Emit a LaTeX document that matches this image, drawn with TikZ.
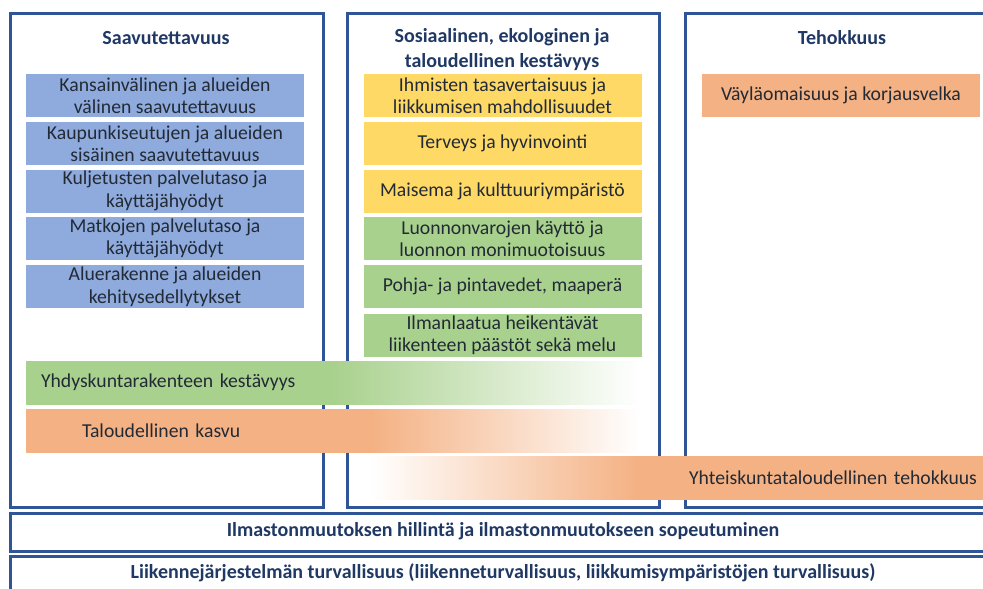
\documentclass[tikz,border=0pt]{standalone}
\usepackage{fontspec}
\setmainfont{Carlito}
\usetikzlibrary{positioning}
\definecolor{frameblue}{HTML}{2F5597}
\definecolor{titleblue}{HTML}{1F3864}
\definecolor{itemtext}{HTML}{222A35}
\definecolor{itemblue}{HTML}{8FAADC}
\definecolor{itemyellow}{HTML}{FFD966}
\definecolor{itemgreen}{HTML}{A9D18E}
\definecolor{itemorange}{HTML}{F4B183}
\pgfdeclarehorizontalshading{greenfade}{100bp}{color(0bp)=(itemgreen); color(50bp)=(itemgreen); color(75bp)=(white); color(100bp)=(white)}
\pgfdeclarehorizontalshading{orangefade}{100bp}{color(0bp)=(itemorange); color(53bp)=(itemorange); color(75bp)=(white); color(100bp)=(white)}
\pgfdeclarehorizontalshading{orangerise}{100bp}{color(0bp)=(white); color(25bp)=(white); color(47bp)=(itemorange); color(100bp)=(itemorange)}

\begin{document}
\begin{tikzpicture}[x=1pt, y=-1pt,
    colframe/.style={draw=frameblue, line width=3pt, inner sep=0pt, anchor=north west},
    head/.style={font=\bfseries\fontsize{20}{25}\selectfont, text=titleblue, align=center},
    item/.style={minimum width=278pt, minimum height=43pt, align=center,
      inner sep=0pt, font=\fontsize{19.7}{22.5}\selectfont, text=itemtext},
    bar/.style={minimum height=43pt, inner ysep=0pt, shade, font=\fontsize{19.7}{22.5}\selectfont, text=itemtext}]
  \useasboundingbox (0,0) rectangle (983,589);
  \clip (0,0) rectangle (983,589);
  \node[colframe, minimum width=313pt, minimum height=494pt] (saav) at (9,12) {};
  \node[colframe, minimum width=312pt, minimum height=494pt] (kest) at (346,12) {};
  \node[colframe, minimum width=330pt, minimum height=494pt] (teho) at (684,12) {};
  \node[colframe, minimum width=1000pt, minimum height=38pt] (ilmasto) at (9,512) {};
  \node[colframe, minimum width=1000pt, minimum height=50pt] (turva) at (9,555) {};

  \node[head] (saavT) at (166,38) {Saavutettavuus};
  \node[head] (kestT) at (502,50) {Sosiaalinen, ekologinen ja\\taloudellinen kestävyys};
  \node[head] (tehoT) at (842,38) {Tehokkuus};

  \node[item, fill=itemblue] (kv) at (165,95.5) {Kansainvälinen ja alueiden\\välinen saavutettavuus};
  \node[item, fill=itemblue] (ks) at (165,143.5) {Kaupunkiseutujen ja alueiden\\sisäinen saavutettavuus};
  \node[item, fill=itemblue] (kul) at (165,191) {Kuljetusten palvelutaso ja\\käyttäjähyödyt};
  \node[item, fill=itemblue] (mat) at (165,238.5) {Matkojen palvelutaso ja\\käyttäjähyödyt};
  \node[item, fill=itemblue] (alu) at (165,286.5) {Aluerakenne ja alueiden\\kehitysedellytykset};

  \node[item, fill=itemyellow] (ihm) at (502.5,95.5) {Ihmisten tasavertaisuus ja\\liikkumisen mahdollisuudet};
  \node[item, fill=itemyellow] (ter) at (502.5,143.5) {Terveys ja hyvinvointi};
  \node[item, fill=itemyellow] (mai) at (502.5,191) {Maisema ja kulttuuriympäristö};
  \node[item, fill=itemgreen] (luo) at (502.5,238.5) {Luonnonvarojen käyttö ja\\luonnon monimuotoisuus};
  \node[item, fill=itemgreen] (poh) at (502.5,286.5) {Pohja- ja pintavedet, maaperä};
  \node[item, fill=itemgreen] (ilm) at (502.5,335) {Ilmanlaatua heikentävät\\liikenteen päästöt sekä melu};

  \node[item, fill=itemorange] (vay) at (841,95.5) {Väyläomaisuus ja korjausvelka};

  \node[bar, shading=greenfade, inner xsep=15pt, text width=584pt, align=left] (yhd) at (333,382.5) {Yhdyskuntarakenteen kestävyys};
  \node[bar, shading=orangefade, inner xsep=56pt, text width=502pt, align=left] (tal) at (333,431) {Taloudellinen kasvu};
  \node[bar, shading=orangerise, inner xsep=6pt, text width=601pt, align=right] (yht) at (676.5,478) {Yhteiskuntataloudellinen tehokkuus};

  \node[head] (ilmT) at (503,531) {Ilmastonmuutoksen hillintä ja ilmastonmuutokseen sopeutuminen};
  \node[head] (turT) at (503,573) {Liikennejärjestelmän turvallisuus (liikenneturvallisuus, liikkumisympäristöjen turvallisuus)};
\end{tikzpicture}
\end{document}
